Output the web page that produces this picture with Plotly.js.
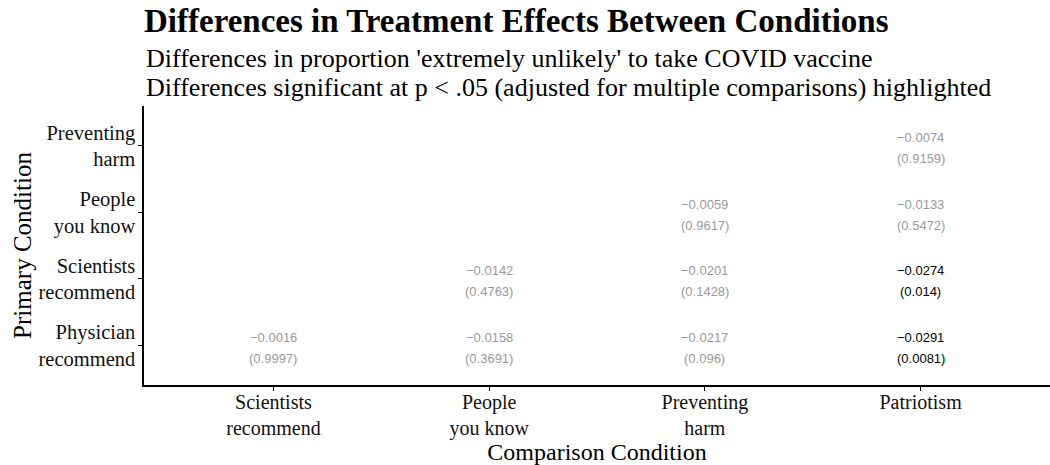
<!DOCTYPE html>
<html><head><meta charset="utf-8">
<script src="https://cdn.plot.ly/plotly-3.0.1.min.js"></script>
<style>body{margin:0;background:#fff}#c{width:1050px;height:465px}</style>
</head><body><div id="c"></div>
<script>
const comparison = ["Scientists<br>recommend", "People<br>you know", "Preventing<br>harm", "Patriotism"];
const primary = ["Physician<br>recommend", "Scientists<br>recommend", "People<br>you know", "Preventing<br>harm"];
// cells: comparison index, primary index, difference, adjusted p
const cellX = [0, 1, 2, 3, 1, 2, 3, 2, 3, 3];
const cellY = [0, 0, 0, 0, 1, 1, 1, 2, 2, 3];
const diffs = [-0.0016, -0.0158, -0.0217, -0.0291, -0.0142, -0.0201, -0.0274, -0.0059, -0.0133, -0.0074];
const pvals = ["0.9997", "0.3691", "0.096", "0.0081", "0.4763", "0.1428", "0.014", "0.9617", "0.5472", "0.9159"];
const pNum = pvals.map(Number);
const subtitles = ["Differences in proportion 'extremely unlikely' to take COVID vaccine",
  "Differences significant at p &lt; .05 (adjusted for multiple comparisons) highlighted"];

const fmt = v => (v < 0 ? "\u2212" : "") + Math.abs(v).toFixed(4);
const sans = "Liberation Sans, Arial, sans-serif";
const serif = "Liberation Serif, Times New Roman, serif";

const annotations = [];
for (let i = 0; i < diffs.length; i++) {
  const col = pNum[i] < 0.05 ? "#000000" : "#9a9a9a";
  annotations.push({x: cellX[i], y: cellY[i], xref: "x", yref: "y", text: fmt(diffs[i]), showarrow: false,
    yshift: 8, font: {family: sans, size: 13, color: col}});
  annotations.push({x: cellX[i], y: cellY[i], xref: "x", yref: "y", text: "(" + pvals[i] + ")", showarrow: false,
    yshift: -13, font: {family: sans, size: 13, color: col}});
}
const subY = [1.172, 1.068];
subtitles.forEach((t, i) => annotations.push({xref: "paper", yref: "paper", x: 0, y: subY[i], xanchor: "left",
  yanchor: "middle", align: "left", showarrow: false, text: t, font: {family: serif, size: 26, color: "#000"}}));

const trace = {x: cellX, y: cellY, mode: "markers", type: "scatter", marker: {size: 1, opacity: 0}, hoverinfo: "skip", showlegend: false};

const layout = {
  width: 1050, height: 465,
  margin: {l: 144, r: 0, t: 106, b: 80},
  paper_bgcolor: "#fff", plot_bgcolor: "#fff",
  title: {text: "<b>Differences in Treatment Effects Between Conditions</b>", xref: "paper", x: 0, xanchor: "left",
    yref: "container", y: 0.955, yanchor: "middle", font: {family: serif, size: 33, color: "#000"}},
  xaxis: {range: [-0.6, 3.6], tickvals: [0, 1, 2, 3], ticktext: comparison, showgrid: false, zeroline: false,
    showline: true, linecolor: "#000", linewidth: 1.6, ticks: "outside", ticklen: 4, tickwidth: 1, tickcolor: "#000",
    ticklabelstandoff: -6,
    tickfont: {family: serif, size: 20, color: "#111"},
    title: {text: "Comparison Condition", font: {family: serif, size: 24, color: "#000"}, standoff: 0}},
  yaxis: {range: [-0.6, 3.6], tickvals: [0, 1, 2, 3], ticktext: primary, showgrid: false, zeroline: false,
    showline: true, linecolor: "#000", linewidth: 1.6, ticks: "outside", ticklen: 4, tickwidth: 1, tickcolor: "#000",
    ticklabelstandoff: -1,
    tickfont: {family: serif, size: 20.5, color: "#111"},
    title: {text: "Primary Condition", font: {family: serif, size: 25, color: "#000"}, standoff: 0}},
  annotations: annotations
};
Plotly.newPlot("c", [trace], layout, {displayModeBar: false, staticPlot: true});
</script></body></html>
